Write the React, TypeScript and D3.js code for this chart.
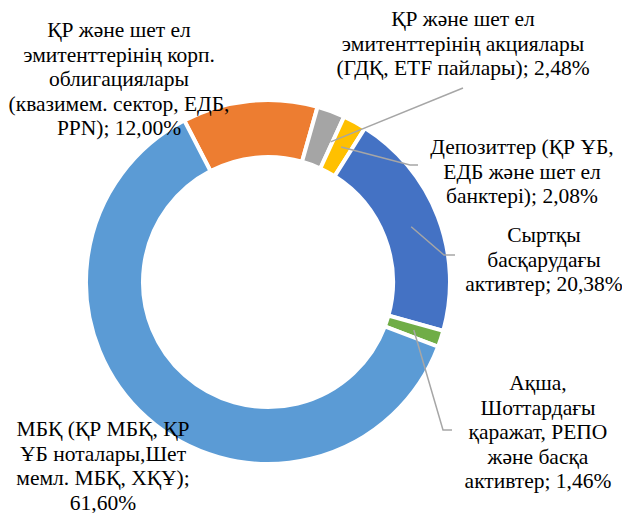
import React from "react";
import * as d3 from "d3";

const categories = [
  "ҚР және шет ел эмитенттерінің корп. облигациялары (квазимем. сектор, ЕДБ, PPN)",
  "ҚР және шет ел эмитенттерінің акциялары (ГДҚ, ETF пайлары)",
  "Депозиттер (ҚР ҰБ, ЕДБ және шет ел банктері)",
  "Сыртқы басқарудағы активтер",
  "Ақша, Шоттардағы қаражат, РЕПО және басқа активтер",
  "МБҚ (ҚР МБҚ, ҚР ҰБ ноталары,Шет мемл. МБҚ, ХҚҰ)",
];
const values = [12.0, 2.48, 2.08, 20.38, 1.46, 61.6];
const colors = ["#ED7D31", "#A5A5A5", "#FFC000", "#4472C4", "#70AD47", "#5B9BD5"];
const labelLines = [
  ["ҚР және шет ел", "эмитенттерінің корп.", "облигациялары", "(квазимем. сектор, ЕДБ,", "PPN); 12,00%"],
  ["ҚР және шет ел", "эмитенттерінің акциялары", "(ГДҚ, ETF пайлары); 2,48%"],
  ["Депозиттер (ҚР ҰБ,", "ЕДБ және шет ел", "банктері); 2,08%"],
  ["Сыртқы", "басқарудағы", "активтер; 20,38%"],
  ["Ақша,", "Шоттардағы", "қаражат, РЕПО", "және басқа", "активтер; 1,46%"],
  ["МБҚ (ҚР МБҚ, ҚР", "ҰБ ноталары,Шет", "мемл. МБҚ, ХҚҰ);", "61,60%"],
];

// layout (not data)
const W = 622;
const H = 513;
const cx = 268;
const cy = 282;
const outerR = 182;
const innerR = 125;
const startDeg = -27.4;
const lineH = 24.5;
const FONT = '"Liberation Serif"';
const labelPos = [
  { x: 119, y: 37 },
  { x: 463, y: 26 },
  { x: 522, y: 154 },
  { x: 544, y: 242 },
  { x: 538, y: 390 },
  { x: 103, y: 436 },
];
const leaders: ({ off: number; pts: [number, number][] } | null)[] = [
  null,
  { off: 3.8, pts: [[463, 88]] },
  { off: 0, pts: [[410, 165], [418, 165]] },
  { off: 0, pts: [[444, 255], [455, 255]] },
  { off: 0, pts: [[443, 430], [452, 430]] },
  null,
];

export default function App() {
  const pie = d3
    .pie<number>()
    .sort(null)
    .value((d) => d)
    .startAngle((startDeg * Math.PI) / 180)
    .endAngle((startDeg * Math.PI) / 180 + 2 * Math.PI);
  const arcs = pie(values);
  const arc = d3.arc<d3.PieArcDatum<number>>().innerRadius(innerR).outerRadius(outerR);
  const midR = (innerR + outerR) / 2;

  return (
    <svg width={W} height={H} style={{ position: "absolute", left: 0, top: 0, background: "#fff" }}>
      <g transform={`translate(${cx},${cy})`}>
        {arcs.map((a, i) => (
          <path
            key={i}
            d={arc(a) || ""}
            fill={colors[i]}
            stroke="#fff"
            strokeWidth={4}
            data-category={categories[i]}
          />
        ))}
      </g>
      {arcs.map((a, i) => {
        const L = leaders[i];
        if (!L) return null;
        const ang = (a.startAngle + a.endAngle) / 2 + (L.off * Math.PI) / 180;
        const sx = cx + midR * Math.sin(ang);
        const sy = cy - midR * Math.cos(ang);
        const pts: [number, number][] = [[sx, sy], ...L.pts];
        return (
          <polyline
            key={"l" + i}
            points={pts.map((p) => p.join(",")).join(" ")}
            fill="none"
            stroke="#A6A6A6"
            strokeWidth={1.5}
          />
        );
      })}
      {labelLines.map((lines, i) =>
        lines.map((ln, j) => (
          <text
            key={"t" + i + "_" + j}
            x={labelPos[i].x}
            y={labelPos[i].y + j * lineH}
            fontSize={21.5}
            fill="#000"
            textAnchor="middle"
            style={{ fontFamily: FONT }}
          >
            {ln}
          </text>
        ))
      )}
    </svg>
  );
}
